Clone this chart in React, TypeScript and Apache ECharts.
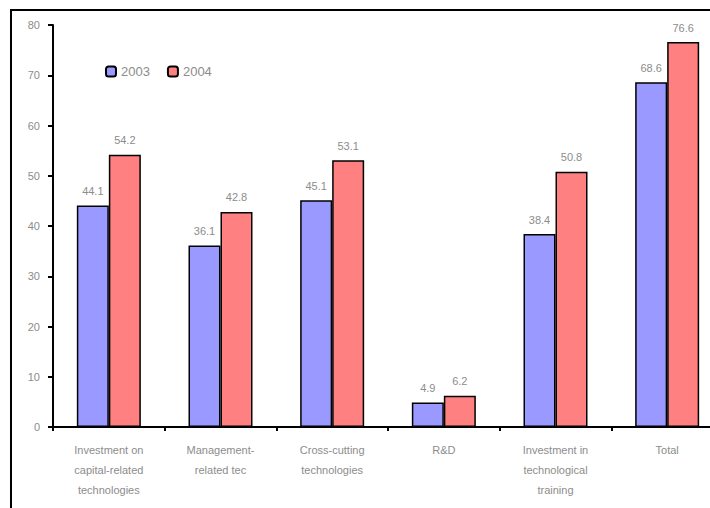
import React, { useEffect, useRef } from "react";
import * as echarts from "echarts";

const categories = [
  "Investment on\ncapital-related\ntechnologies",
  "Management-\nrelated tec",
  "Cross-cutting\ntechnologies",
  "R&D",
  "Investment in\ntechnological\ntraining",
  "Total",
];
const values2003 = [44.1, 36.1, 45.1, 4.9, 38.4, 68.6];
const values2004 = [54.2, 42.8, 53.1, 6.2, 50.8, 76.6];
const yTicks = { min: 0, max: 80, interval: 10 };

const FONT = "'Liberation Sans', Arial, sans-serif";
const GREY = "#8c8c8c";

export default function App() {
  const ref = useRef<HTMLDivElement>(null);
  useEffect(() => {
    if (!ref.current) return;
    const chart = echarts.init(ref.current, null, { renderer: "svg" });
    const label = {
      show: true,
      position: "top",
      distance: 9,
      color: GREY,
      fontSize: 11,
      fontFamily: FONT,
    };
    chart.setOption({
      animation: false,
      backgroundColor: "#ffffff",
      textStyle: { fontFamily: FONT },
      graphic: [
        {
          type: "rect",
          shape: { x: 11, y: 10, width: 740, height: 540 },
          style: { fill: "none", stroke: "#000", lineWidth: 2 },
          silent: true,
          z: 100,
        },
      ],
      legend: {
        left: 100,
        top: 60,
        itemWidth: 10,
        itemHeight: 10,
        itemGap: 17,
        textStyle: { color: GREY, fontSize: 13, fontFamily: FONT },
        data: ["2003", "2004"],
      },
      grid: { left: 53, right: 17, top: 25, bottom: 81, containLabel: false },
      xAxis: {
        type: "category",
        data: categories,
        axisLine: { lineStyle: { color: "#000", width: 2 } },
        axisTick: { show: true, length: 4, lineStyle: { color: "#000", width: 2 } },
        axisLabel: {
          color: GREY,
          fontSize: 11,
          fontFamily: FONT,
          lineHeight: 20,
          margin: 13,
          interval: 0,
        },
      },
      yAxis: {
        type: "value",
        min: yTicks.min,
        max: yTicks.max,
        interval: yTicks.interval,
        splitLine: { show: false },
        axisLine: { show: true, lineStyle: { color: "#000", width: 2 } },
        axisTick: { show: true, length: 5, lineStyle: { color: "#000", width: 2 } },
        axisLabel: { color: GREY, fontSize: 11, fontFamily: FONT, margin: 13 },
      },
      series: [
        {
          name: "2003",
          type: "bar",
          data: values2003,
          barWidth: 32,
          barGap: "0%",
          itemStyle: { color: "#9999FF", borderColor: "#000", borderWidth: 1.5 },
          label,
        },
        {
          name: "2004",
          type: "bar",
          data: values2004,
          barWidth: 32,
          barGap: "0%",
          itemStyle: { color: "#FF8080", borderColor: "#000", borderWidth: 1.5 },
          label,
        },
      ],
    });
    return () => chart.dispose();
  }, []);
  return (
    <div style={{ position: "fixed", left: 0, top: 0, width: 710, height: 508, overflow: "hidden" }}>
      <div ref={ref} style={{ width: 740, height: 508 }} />
    </div>
  );
}
